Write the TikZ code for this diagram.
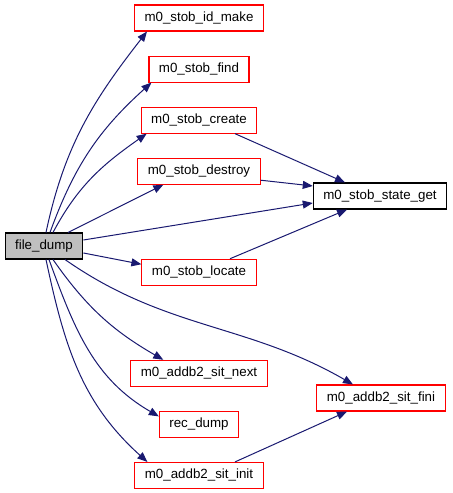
\documentclass[tikz,border=0pt]{standalone}
\usepackage{fontspec}
\setmainfont{Liberation Sans}
\usetikzlibrary{arrows.meta,positioning,calc}
\definecolor{edgeblue}{HTML}{191970}
\tikzset{
    func/.style={
        draw=red,
        line width=0.8pt,
        rectangle,
        fill=white,
        inner xsep=7.5pt,
        inner ysep=0pt,
        minimum height=19.5pt,
        font=\fontsize{10}{12}\selectfont
    },
    focus/.style={
        func,
        draw=black,
        fill=black!25
    },
    known/.style={
        func,
        draw=black
    },
    call/.style={
        draw=edgeblue,
        line width=0.75pt,
        -{Triangle[length=7.5pt,width=6pt]}
    },
}

\begin{document}
\begin{tikzpicture}[x=0.75pt, y=0.75pt, node distance = 18pt and 0.5cm]
    \useasboundingbox (0,0) rectangle (453,493);
    % blocks
    \node[focus] (fd) at (44,247) {file\_dump};
    \node[func] (idmake) at (199,475) {m0\_stob\_id\_make};
    \node[func, below= of idmake] (find) {m0\_stob\_find};
    \node[func, below= of find] (create) {m0\_stob\_create};
    \node[func, below= of create] (destroy) {m0\_stob\_destroy};
    \node[func, below=55.5pt of destroy] (locate) {m0\_stob\_locate};
    \node[func, below=55.5pt of locate] (sitnext) {m0\_addb2\_sit\_next};
    \node[func, below= of sitnext] (recdump) {rec\_dump};
    \node[func, below= of recdump] (sitinit) {m0\_addb2\_sit\_init};

    \node[known] (stateget) at (380,297) {m0\_stob\_state\_get};
    \node[func] (sitfini) at (381,95) {m0\_addb2\_sit\_fini};

    % calls from file_dump
    \draw[call] ($(fd.north)+(2,0)$) to[out=78, in=232] ($(idmake.south west)+(13,0)$);
    \draw[call] ($(fd.north)+(6,0)$) to[out=70, in=222] ($(find.south west)+(3,0)$);
    \draw[call] ($(fd.north)+(9,0)$) to[out=62, in=215] ($(create.south west)+(6,0)$);
    \draw[call] ($(fd.north)+(24,0)$) -- ($(destroy.south west)+(26,0)$);
    \draw[call] ($(fd.east)+(0,6)$) -- ($(stateget.west)+(0,-7)$);
    \draw[call] ($(fd.east)+(0,-7)$) -- ($(locate.west)+(0,8)$);
    \draw[call] ($(fd.south)+(21,0)$) to[out=-35, in=150] ($(sitfini.north)+(-28,0)$);
    \draw[call] ($(fd.south)+(9,0)$) to[out=-55, in=150] ($(sitnext.north west)+(33,0)$);
    \draw[call] ($(fd.south)+(5,0)$) to[out=-70, in=150] ($(recdump.west)+(0,8)$);
    \draw[call] ($(fd.south)+(2,0)$) to[out=-78, in=138] ($(sitinit.north west)+(13,0)$);

    % calls between callees
    \draw[call] ($(create.south)+(36,0)$) -- ($(stateget.north)+(-35,0)$);
    \draw[call] ($(destroy.east)+(0,-9)$) -- ($(stateget.west)+(0,10)$);
    \draw[call] ($(locate.north)+(31,0)$) -- ($(stateget.south)+(-33,0)$);
    \draw[call] ($(sitinit.north)+(36,0)$) -- ($(sitfini.south)+(-34,0)$);

\end{tikzpicture}
\end{document}
